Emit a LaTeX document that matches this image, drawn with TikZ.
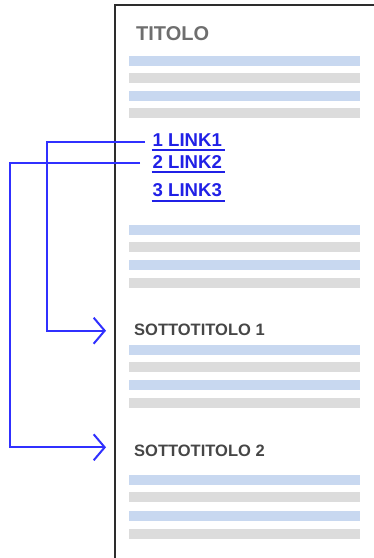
\documentclass[tikz,border=0pt]{standalone}
\usepackage{fontspec}
\setmainfont{Liberation Sans}
\usetikzlibrary{arrows.meta}
\definecolor{barblue}{RGB}{200,216,240}
\definecolor{bargray}{RGB}{220,220,220}
\definecolor{linkblue}{RGB}{32,32,230}
\definecolor{connblue}{RGB}{48,48,255}
\definecolor{titlegray}{RGB}{110,110,110}
\definecolor{subgray}{RGB}{70,70,70}
\definecolor{framegray}{RGB}{45,45,45}
\tikzset{
  bluebar/.style={fill=barblue, draw=none},
  graybar/.style={fill=bargray, draw=none},
  linktext/.style={inner sep=0pt, anchor=base west, text=linkblue, font=\fontsize{18.6}{20}\selectfont\bfseries},
  ulink/.style={draw=linkblue, line width=1.7pt},
  subtext/.style={inner sep=0pt, anchor=base west, text=subgray, font=\fontsize{16.5}{18}\selectfont\bfseries},
  conn/.style={draw=connblue, line width=2pt, -{Straight Barb[length=11pt,width=26pt]}},
}
\begin{document}
\begin{tikzpicture}[x=1pt,y=-1pt]
\useasboundingbox (0,0) rectangle (374,558);
% page frame
\draw[framegray, line width=2pt] (115,558) -- (115,5) -- (374,5);
% title
\node[inner sep=0pt, anchor=base west, text=titlegray, font=\fontsize{20}{22}\selectfont\bfseries] (title) at (136,40) {TITOLO};
% text bars
\foreach \y in {56,91,225,260,345,380,475,511} \fill[bluebar] (129,\y) rectangle (360,\y+10);
\foreach \y in {73,108,242,278,362,398,492,529} \fill[graybar] (129,\y) rectangle (360,\y+10);
% links
\node[linktext] (l1) at (152.5,146) {1 LINK1};
\node[linktext] (l2) at (152.5,168.3) {2 LINK2};
\node[linktext] (l3) at (152.5,196.7) {3 LINK3};
\foreach \n in {l1,l2,l3} \draw[ulink] ([yshift=-4pt,xshift=-1pt]\n.base west) -- ([yshift=-4pt,xshift=3pt]\n.base east);
% subtitles
\node[subtext] (s1) at (134,335) {SOTTOTITOLO 1};
\node[subtext] (s2) at (134,456.7) {SOTTOTITOLO 2};
% connector endpoints
\coordinate (a1) at (145,141.7);
\coordinate (a2) at (140,163.3);
\coordinate (t1) at (106,330.7);
\coordinate (t2) at (106,447.3);
\draw[conn] (a1) -- (47,141.7) |- (t1);
\draw[conn] (a2) -- (9.5,163.3) |- (t2);
\end{tikzpicture}
\end{document}
